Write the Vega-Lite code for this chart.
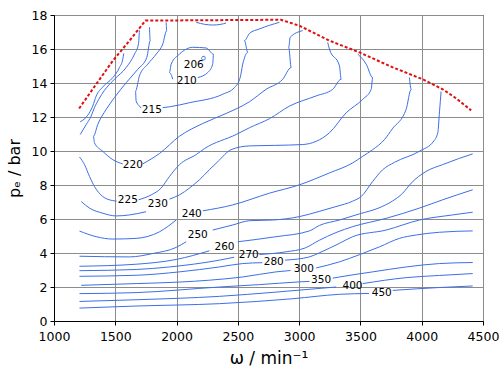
{
  "$schema": "https://vega.github.io/schema/vega-lite/v6.json",
  "autosize": {"type": "none"},
  "padding": {"left": 54, "top": 15, "right": 17, "bottom": 54},
  "width": 429,
  "height": 306,
  "config": {
    "font": "DejaVu Sans",
    "view": {"stroke": "black", "strokeWidth": 1},
    "axis": {
      "domainColor": "black", "domainWidth": 1,
      "tickColor": "black", "tickSize": 4, "tickWidth": 1,
      "labelColor": "black", "labelFontSize": 12.5, "labelFont": "DejaVu Sans",
      "titleColor": "black", "titleFontSize": 16, "titleFontWeight": "normal", "titleFont": "DejaVu Sans",
      "grid": true, "gridColor": "#8c8c8c", "gridWidth": 1
    }
  },
  "datasets": {
    "fl": [
      {"x": 1205, "y": 12.5, "o": 0}, {"x": 1344, "y": 13.93, "o": 1}, {"x": 1480, "y": 15.31, "o": 2},
      {"x": 1616, "y": 16.49, "o": 3}, {"x": 1746, "y": 17.67, "o": 4}, {"x": 2850, "y": 17.72, "o": 5},
      {"x": 3002, "y": 17.37, "o": 6}, {"x": 3247, "y": 16.49, "o": 7}, {"x": 3492, "y": 15.8, "o": 8},
      {"x": 3764, "y": 14.92, "o": 9}, {"x": 4008, "y": 14.22, "o": 10}, {"x": 4171, "y": 13.63, "o": 11},
      {"x": 4281, "y": 13.1, "o": 12}, {"x": 4403, "y": 12.39, "o": 13}
    ],
    "c": [
      {"s": "A", "o": 0, "x": 1214, "y": 11.72}, {"s": "A", "o": 1, "x": 1276, "y": 12.11}, {"s": "A", "o": 2, "x": 1316, "y": 12.64},
      {"s": "A", "o": 3, "x": 1344, "y": 13.23}, {"s": "A", "o": 4, "x": 1398, "y": 13.77}, {"s": "A", "o": 5, "x": 1480, "y": 14.32},
      {"s": "A", "o": 6, "x": 1534, "y": 14.91}, {"s": "A", "o": 7, "x": 1561, "y": 15.4}, {"s": "A", "o": 8, "x": 1569, "y": 15.74},

      {"s": "B", "o": 0, "x": 1214, "y": 10.97}, {"s": "B", "o": 1, "x": 1263, "y": 11.56}, {"s": "B", "o": 2, "x": 1303, "y": 12.05},
      {"s": "B", "o": 3, "x": 1330, "y": 12.55}, {"s": "B", "o": 4, "x": 1365, "y": 13.04}, {"s": "B", "o": 5, "x": 1412, "y": 13.57},
      {"s": "B", "o": 6, "x": 1493, "y": 14.22}, {"s": "B", "o": 7, "x": 1589, "y": 14.91}, {"s": "B", "o": 8, "x": 1657, "y": 15.7},
      {"s": "B", "o": 9, "x": 1689, "y": 16.29}, {"s": "B", "o": 10, "x": 1697, "y": 17.1},

      {"s": "220a", "o": 0, "x": 1779, "y": 17.28}, {"s": "220a", "o": 1, "x": 1785, "y": 16.48}, {"s": "220a", "o": 2, "x": 1757, "y": 15.5},
      {"s": "220a", "o": 3, "x": 1684, "y": 14.81}, {"s": "220a", "o": 4, "x": 1589, "y": 14.02}, {"s": "220a", "o": 5, "x": 1493, "y": 13.14},
      {"s": "220a", "o": 6, "x": 1426, "y": 12.45}, {"s": "220a", "o": 7, "x": 1357, "y": 11.56}, {"s": "220a", "o": 8, "x": 1322, "y": 10.87},
      {"s": "220a", "o": 9, "x": 1330, "y": 10.48}, {"s": "220a", "o": 10, "x": 1398, "y": 9.98}, {"s": "220a", "o": 11, "x": 1480, "y": 9.49},
      {"s": "220a", "o": 12, "x": 1561, "y": 9.24},
      {"s": "220b", "o": 0, "x": 1724, "y": 9.24}, {"s": "220b", "o": 1, "x": 1860, "y": 9.85}, {"s": "220b", "o": 2, "x": 2024, "y": 10.87},
      {"s": "220b", "o": 3, "x": 2214, "y": 11.62}, {"s": "220b", "o": 4, "x": 2405, "y": 12.21}, {"s": "220b", "o": 5, "x": 2595, "y": 12.9},
      {"s": "220b", "o": 6, "x": 2731, "y": 13.63}, {"s": "220b", "o": 7, "x": 2866, "y": 14.22}, {"s": "220b", "o": 8, "x": 2935, "y": 14.91},
      {"s": "220b", "o": 9, "x": 2915, "y": 16.1}, {"s": "220b", "o": 10, "x": 2927, "y": 16.69}, {"s": "220b", "o": 11, "x": 3029, "y": 17.08},

      {"s": "215a", "o": 0, "x": 1915, "y": 17.57}, {"s": "215a", "o": 1, "x": 1920, "y": 17.08}, {"s": "215a", "o": 2, "x": 1887, "y": 16.29},
      {"s": "215a", "o": 3, "x": 1834, "y": 15.7}, {"s": "215a", "o": 4, "x": 1765, "y": 15.11}, {"s": "215a", "o": 5, "x": 1697, "y": 14.42},
      {"s": "215a", "o": 6, "x": 1665, "y": 13.53}, {"s": "215a", "o": 7, "x": 1670, "y": 12.94}, {"s": "215a", "o": 8, "x": 1697, "y": 12.64},
      {"s": "215a", "o": 9, "x": 1712, "y": 12.52},
      {"s": "215b", "o": 0, "x": 1887, "y": 12.55}, {"s": "215b", "o": 1, "x": 1942, "y": 12.6}, {"s": "215b", "o": 2, "x": 2105, "y": 12.84},
      {"s": "215b", "o": 3, "x": 2377, "y": 13.34}, {"s": "215b", "o": 4, "x": 2472, "y": 13.73}, {"s": "215b", "o": 5, "x": 2519, "y": 14.32},
      {"s": "215b", "o": 6, "x": 2540, "y": 15.11}, {"s": "215b", "o": 7, "x": 2581, "y": 15.8}, {"s": "215b", "o": 8, "x": 2554, "y": 16.49},
      {"s": "215b", "o": 9, "x": 2595, "y": 16.92}, {"s": "215b", "o": 10, "x": 2676, "y": 17.18}, {"s": "215b", "o": 11, "x": 2839, "y": 17.57},

      {"s": "210", "o": 0, "x": 2173, "y": 14.32}, {"s": "210", "o": 1, "x": 2255, "y": 14.62}, {"s": "210", "o": 2, "x": 2295, "y": 15.11},
      {"s": "210", "o": 3, "x": 2301, "y": 15.7}, {"s": "210", "o": 4, "x": 2241, "y": 16.06}, {"s": "210", "o": 5, "x": 2132, "y": 16.1},
      {"s": "210", "o": 6, "x": 2024, "y": 15.7}, {"s": "210", "o": 7, "x": 1956, "y": 15.11}, {"s": "210", "o": 8, "x": 1942, "y": 14.62},
      {"s": "210", "o": 9, "x": 1969, "y": 14.22},

      {"s": "210t", "o": 0, "x": 2160, "y": 17.57}, {"s": "210t", "o": 1, "x": 2230, "y": 17.45}, {"s": "210t", "o": 2, "x": 2295, "y": 17.41},
      {"s": "210t", "o": 3, "x": 2360, "y": 17.45}, {"s": "210t", "o": 4, "x": 2404, "y": 17.53},

      {"s": "206", "o": 0, "x": 2204, "y": 15.45}, {"s": "206", "o": 1, "x": 2212, "y": 15.56}, {"s": "206", "o": 2, "x": 2228, "y": 15.57},
      {"s": "206", "o": 3, "x": 2236, "y": 15.47}, {"s": "206", "o": 4, "x": 2228, "y": 15.36}, {"s": "206", "o": 5, "x": 2212, "y": 15.35},
      {"s": "206", "o": 6, "x": 2204, "y": 15.45},

      {"s": "225a", "o": 0, "x": 1208, "y": 9.65}, {"s": "225a", "o": 1, "x": 1249, "y": 9.2}, {"s": "225a", "o": 2, "x": 1290, "y": 8.5},
      {"s": "225a", "o": 3, "x": 1330, "y": 7.91}, {"s": "225a", "o": 4, "x": 1398, "y": 7.32}, {"s": "225a", "o": 5, "x": 1480, "y": 7.08},
      {"s": "225a", "o": 6, "x": 1510, "y": 7.05},
      {"s": "225b", "o": 0, "x": 1690, "y": 7.13}, {"s": "225b", "o": 1, "x": 1793, "y": 7.42}, {"s": "225b", "o": 2, "x": 1874, "y": 7.82},
      {"s": "225b", "o": 3, "x": 1942, "y": 8.5}, {"s": "225b", "o": 4, "x": 2024, "y": 9.2}, {"s": "225b", "o": 5, "x": 2160, "y": 9.79},
      {"s": "225b", "o": 6, "x": 2230, "y": 10.15}, {"s": "225b", "o": 7, "x": 2486, "y": 10.97}, {"s": "225b", "o": 8, "x": 2595, "y": 11.37},
      {"s": "225b", "o": 9, "x": 2758, "y": 11.9}, {"s": "225b", "o": 10, "x": 2921, "y": 12.64}, {"s": "225b", "o": 11, "x": 3139, "y": 13.24},
      {"s": "225b", "o": 12, "x": 3274, "y": 13.63}, {"s": "225b", "o": 13, "x": 3343, "y": 14.22}, {"s": "225b", "o": 14, "x": 3329, "y": 15.01},
      {"s": "225b", "o": 15, "x": 3247, "y": 16.0}, {"s": "225b", "o": 16, "x": 3233, "y": 16.39},

      {"s": "230a", "o": 0, "x": 1222, "y": 7.03}, {"s": "230a", "o": 1, "x": 1290, "y": 6.64}, {"s": "230a", "o": 2, "x": 1398, "y": 6.34},
      {"s": "230a", "o": 3, "x": 1507, "y": 6.18}, {"s": "230a", "o": 4, "x": 1616, "y": 6.24}, {"s": "230a", "o": 5, "x": 1752, "y": 6.43},
      {"s": "230b", "o": 0, "x": 1942, "y": 7.17}, {"s": "230b", "o": 1, "x": 2024, "y": 7.42}, {"s": "230b", "o": 2, "x": 2105, "y": 7.82},
      {"s": "230b", "o": 3, "x": 2187, "y": 8.31}, {"s": "230b", "o": 4, "x": 2268, "y": 8.9}, {"s": "230b", "o": 5, "x": 2340, "y": 9.4},
      {"s": "230b", "o": 6, "x": 2445, "y": 10.08}, {"s": "230b", "o": 7, "x": 2595, "y": 10.3}, {"s": "230b", "o": 8, "x": 2800, "y": 10.33},
      {"s": "230b", "o": 9, "x": 3029, "y": 10.38}, {"s": "230b", "o": 10, "x": 3247, "y": 11.07}, {"s": "230b", "o": 11, "x": 3384, "y": 12.25},
      {"s": "230b", "o": 12, "x": 3519, "y": 13.04}, {"s": "230b", "o": 13, "x": 3588, "y": 13.63}, {"s": "230b", "o": 14, "x": 3600, "y": 14.32},
      {"s": "230b", "o": 15, "x": 3547, "y": 15.11}, {"s": "230b", "o": 16, "x": 3478, "y": 15.7},

      {"s": "240a", "o": 0, "x": 1208, "y": 5.29}, {"s": "240a", "o": 1, "x": 1344, "y": 4.96}, {"s": "240a", "o": 2, "x": 1480, "y": 4.82},
      {"s": "240a", "o": 3, "x": 1670, "y": 4.86}, {"s": "240a", "o": 4, "x": 1861, "y": 5.25}, {"s": "240a", "o": 5, "x": 1997, "y": 5.94},
      {"s": "240b", "o": 0, "x": 2214, "y": 6.48}, {"s": "240b", "o": 1, "x": 2459, "y": 6.83}, {"s": "240b", "o": 2, "x": 2758, "y": 7.52},
      {"s": "240b", "o": 3, "x": 3002, "y": 8.01}, {"s": "240b", "o": 4, "x": 3247, "y": 8.71}, {"s": "240b", "o": 5, "x": 3437, "y": 9.3},
      {"s": "240b", "o": 6, "x": 3519, "y": 9.69}, {"s": "240b", "o": 7, "x": 3600, "y": 10.08}, {"s": "240b", "o": 8, "x": 3696, "y": 10.67},
      {"s": "240b", "o": 9, "x": 3760, "y": 11.3}, {"s": "240b", "o": 10, "x": 3873, "y": 12.45}, {"s": "240b", "o": 11, "x": 3914, "y": 13.63},
      {"s": "240b", "o": 12, "x": 3900, "y": 14.32},

      {"s": "250a", "o": 0, "x": 1208, "y": 3.81}, {"s": "250a", "o": 1, "x": 1616, "y": 3.77}, {"s": "250a", "o": 2, "x": 1806, "y": 3.97},
      {"s": "250a", "o": 3, "x": 1997, "y": 4.33}, {"s": "250a", "o": 4, "x": 2078, "y": 4.66},
      {"s": "250b", "o": 0, "x": 2295, "y": 5.35}, {"s": "250b", "o": 1, "x": 2459, "y": 5.65}, {"s": "250b", "o": 2, "x": 2595, "y": 5.9},
      {"s": "250b", "o": 3, "x": 2785, "y": 5.94}, {"s": "250b", "o": 4, "x": 3002, "y": 6.14}, {"s": "250b", "o": 5, "x": 3165, "y": 6.45},
      {"s": "250b", "o": 6, "x": 3300, "y": 6.73}, {"s": "250b", "o": 7, "x": 3437, "y": 7.05}, {"s": "250b", "o": 8, "x": 3506, "y": 7.32},
      {"s": "250b", "o": 9, "x": 3600, "y": 8.21}, {"s": "250b", "o": 10, "x": 3682, "y": 8.9}, {"s": "250b", "o": 11, "x": 3777, "y": 9.33},
      {"s": "250b", "o": 12, "x": 3980, "y": 9.98}, {"s": "250b", "o": 13, "x": 4100, "y": 10.6}, {"s": "250b", "o": 14, "x": 4131, "y": 11.07},
      {"s": "250b", "o": 15, "x": 4145, "y": 12.3}, {"s": "250b", "o": 16, "x": 4158, "y": 13.5},

      {"s": "260a", "o": 0, "x": 1208, "y": 3.22}, {"s": "260a", "o": 1, "x": 1670, "y": 3.34}, {"s": "260a", "o": 2, "x": 1997, "y": 3.62},
      {"s": "260a", "o": 3, "x": 2268, "y": 4.13},
      {"s": "260b", "o": 0, "x": 2499, "y": 4.66}, {"s": "260b", "o": 1, "x": 2812, "y": 4.96}, {"s": "260b", "o": 2, "x": 3084, "y": 5.3},
      {"s": "260b", "o": 3, "x": 3165, "y": 5.62}, {"s": "260b", "o": 4, "x": 3329, "y": 5.94}, {"s": "260b", "o": 5, "x": 3492, "y": 6.3},
      {"s": "260b", "o": 6, "x": 3650, "y": 6.65}, {"s": "260b", "o": 7, "x": 3760, "y": 7.05}, {"s": "260b", "o": 8, "x": 3845, "y": 7.52},
      {"s": "260b", "o": 9, "x": 3914, "y": 8.11}, {"s": "260b", "o": 10, "x": 4036, "y": 8.8}, {"s": "260b", "o": 11, "x": 4171, "y": 9.2},
      {"s": "260b", "o": 12, "x": 4300, "y": 9.55}, {"s": "260b", "o": 13, "x": 4416, "y": 9.83},

      {"s": "270a", "o": 0, "x": 1208, "y": 2.96}, {"s": "270a", "o": 1, "x": 1670, "y": 3.03}, {"s": "270a", "o": 2, "x": 1942, "y": 3.18},
      {"s": "270a", "o": 3, "x": 2350, "y": 3.58}, {"s": "270a", "o": 4, "x": 2470, "y": 3.75},
      {"s": "270b", "o": 0, "x": 2676, "y": 3.91}, {"s": "270b", "o": 1, "x": 2894, "y": 4.07}, {"s": "270b", "o": 2, "x": 3050, "y": 4.3},
      {"s": "270b", "o": 3, "x": 3165, "y": 4.75}, {"s": "270b", "o": 4, "x": 3300, "y": 5.2}, {"s": "270b", "o": 5, "x": 3437, "y": 5.55},
      {"s": "270b", "o": 6, "x": 3710, "y": 6.04}, {"s": "270b", "o": 7, "x": 3981, "y": 6.64}, {"s": "270b", "o": 8, "x": 4171, "y": 7.13},
      {"s": "270b", "o": 9, "x": 4416, "y": 7.72},

      {"s": "280a", "o": 0, "x": 1208, "y": 2.63}, {"s": "280a", "o": 1, "x": 1670, "y": 2.69}, {"s": "280a", "o": 2, "x": 2024, "y": 2.89},
      {"s": "280a", "o": 3, "x": 2350, "y": 3.18}, {"s": "280a", "o": 4, "x": 2540, "y": 3.38}, {"s": "280a", "o": 5, "x": 2700, "y": 3.43},
      {"s": "280b", "o": 0, "x": 2885, "y": 3.58}, {"s": "280b", "o": 1, "x": 3084, "y": 3.77}, {"s": "280b", "o": 2, "x": 3165, "y": 4.01},
      {"s": "280b", "o": 3, "x": 3329, "y": 4.57}, {"s": "280b", "o": 4, "x": 3437, "y": 4.96}, {"s": "280b", "o": 5, "x": 3710, "y": 5.35},
      {"s": "280b", "o": 6, "x": 3981, "y": 5.94}, {"s": "280b", "o": 7, "x": 4253, "y": 6.24}, {"s": "280b", "o": 8, "x": 4416, "y": 6.4},

      {"s": "300a", "o": 0, "x": 1222, "y": 2.1}, {"s": "300a", "o": 1, "x": 1670, "y": 2.2}, {"s": "300a", "o": 2, "x": 2024, "y": 2.29},
      {"s": "300a", "o": 3, "x": 2268, "y": 2.4}, {"s": "300a", "o": 4, "x": 2540, "y": 2.59}, {"s": "300a", "o": 5, "x": 2812, "y": 2.89},
      {"s": "300a", "o": 6, "x": 2930, "y": 2.97},
      {"s": "300b", "o": 0, "x": 3139, "y": 3.12}, {"s": "300b", "o": 1, "x": 3329, "y": 3.48}, {"s": "300b", "o": 2, "x": 3492, "y": 3.9},
      {"s": "300b", "o": 3, "x": 3655, "y": 4.36}, {"s": "300b", "o": 4, "x": 3818, "y": 4.86}, {"s": "300b", "o": 5, "x": 3955, "y": 5.06},
      {"s": "300b", "o": 6, "x": 4145, "y": 5.22}, {"s": "300b", "o": 7, "x": 4416, "y": 5.3},

      {"s": "350a", "o": 0, "x": 1208, "y": 1.61}, {"s": "350a", "o": 1, "x": 1670, "y": 1.67}, {"s": "350a", "o": 2, "x": 2350, "y": 2.0},
      {"s": "350a", "o": 3, "x": 2676, "y": 2.14}, {"s": "350a", "o": 4, "x": 3000, "y": 2.3}, {"s": "350a", "o": 5, "x": 3085, "y": 2.33},
      {"s": "350b", "o": 0, "x": 3274, "y": 2.52}, {"s": "350b", "o": 1, "x": 3329, "y": 2.59}, {"s": "350b", "o": 2, "x": 3600, "y": 2.89},
      {"s": "350b", "o": 3, "x": 3873, "y": 3.18}, {"s": "350b", "o": 4, "x": 4145, "y": 3.38}, {"s": "350b", "o": 5, "x": 4416, "y": 3.44},

      {"s": "400a", "o": 0, "x": 1208, "y": 1.15}, {"s": "400a", "o": 1, "x": 1670, "y": 1.25}, {"s": "400a", "o": 2, "x": 2350, "y": 1.45},
      {"s": "400a", "o": 3, "x": 2812, "y": 1.7}, {"s": "400a", "o": 4, "x": 3302, "y": 2.0},
      {"s": "400b", "o": 0, "x": 3519, "y": 2.2}, {"s": "400b", "o": 1, "x": 3873, "y": 2.55}, {"s": "400b", "o": 2, "x": 4145, "y": 2.68},
      {"s": "400b", "o": 3, "x": 4416, "y": 2.79},

      {"s": "450a", "o": 0, "x": 1208, "y": 0.76}, {"s": "450a", "o": 1, "x": 1670, "y": 0.88}, {"s": "450a", "o": 2, "x": 2350, "y": 1.02},
      {"s": "450a", "o": 3, "x": 2948, "y": 1.31}, {"s": "450a", "o": 4, "x": 3329, "y": 1.57}, {"s": "450a", "o": 5, "x": 3570, "y": 1.62},
      {"s": "450b", "o": 0, "x": 3764, "y": 1.8}, {"s": "450b", "o": 1, "x": 4145, "y": 1.97}, {"s": "450b", "o": 2, "x": 4416, "y": 2.06}
    ],
    "lab": [
      {"t": "206", "x": 2140, "y": 15.05}, {"t": "210", "x": 2083, "y": 14.12}, {"t": "215", "x": 1798, "y": 12.39},
      {"t": "220", "x": 1643, "y": 9.2}, {"t": "225", "x": 1602, "y": 7.13}, {"t": "230", "x": 1847, "y": 6.87},
      {"t": "240", "x": 2124, "y": 6.3}, {"t": "250", "x": 2173, "y": 5.06}, {"t": "260", "x": 2391, "y": 4.33},
      {"t": "270", "x": 2589, "y": 3.87}, {"t": "280", "x": 2793, "y": 3.48}, {"t": "300", "x": 3038, "y": 3.03},
      {"t": "350", "x": 3179, "y": 2.4}, {"t": "400", "x": 3435, "y": 2.06}, {"t": "450", "x": 3674, "y": 1.67}
    ]
  },
  "encoding": {
    "x": {
      "field": "x", "type": "quantitative",
      "scale": {"domain": [1000, 4500], "nice": false, "zero": false},
      "axis": {"values": [1000, 1500, 2000, 2500, 3000, 3500, 4000, 4500], "format": "d", "title": "ω / min⁻¹", "titleFontSize": 17, "labelPadding": 5, "titlePadding": 8, "labelFlush": false}
    },
    "y": {
      "field": "y", "type": "quantitative",
      "scale": {"domain": [0, 18], "nice": false},
      "axis": {"values": [0, 2, 4, 6, 8, 10, 12, 14, 16, 18], "title": "pₑ / bar", "labelPadding": 3, "titlePadding": 9, "labelFlush": false}
    }
  },
  "layer": [
    {
      "data": {"name": "c"},
      "mark": {"type": "line", "color": "#3c6fe6", "strokeWidth": 1, "interpolate": "monotone"},
      "encoding": {
        "detail": {"field": "s", "type": "nominal"},
        "order": {"field": "o", "type": "quantitative"}
      }
    },
    {
      "data": {"name": "fl"},
      "mark": {"type": "line", "color": "#dd1111", "strokeWidth": 2, "strokeDash": [3, 2]},
      "encoding": {
        "order": {"field": "o", "type": "quantitative"}
      }
    },
    {
      "data": {"name": "lab"},
      "mark": {"type": "text", "fontSize": 10.5, "color": "black", "align": "center", "baseline": "middle", "font": "DejaVu Sans"},
      "encoding": {
        "text": {"field": "t", "type": "nominal"}
      }
    }
  ]
}
